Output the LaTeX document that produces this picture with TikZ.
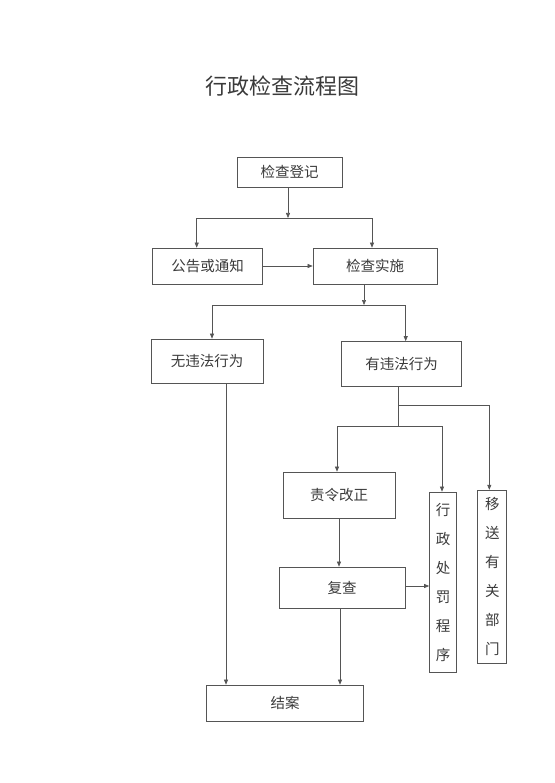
\documentclass[tikz,border=0pt]{standalone}
\usepackage{fontspec}
\newfontfamily\cjk{Noto Sans CJK SC}
\usetikzlibrary{arrows.meta}
\definecolor{ln}{HTML}{555555}
\definecolor{tx}{HTML}{3A3A3A}
\begin{document}
\begin{tikzpicture}[x=1pt,y=-1pt,
  box/.style={draw=ln,line width=0.7pt,inner sep=0pt,text=tx,font=\cjk\fontsize{14.5}{16}\selectfont},
  vbox/.style={draw=ln,line width=0.7pt,inner sep=0pt,text=tx,align=center,font=\cjk\fontsize{14.5}{29}\selectfont},
  conn/.style={draw=ln,line width=0.6pt},
  arr/.style={conn,-{Triangle[length=5pt,width=4pt]}}]
\useasboundingbox (0,0) rectangle (554,783);
\node[text=tx,font=\cjk\fontsize{22}{24}\selectfont] (title) at (282,86) {行政检查流程图};
\node[box,minimum width=105pt,minimum height=30pt] (reg) at (289.5,172) {检查登记};
\node[box,minimum width=110pt,minimum height=36pt] (notice) at (207.7,266) {公告或通知};
\node[box,minimum width=124pt,minimum height=36pt] (impl) at (375,266) {检查实施};
\node[box,minimum width=112pt,minimum height=44pt] (nov) at (207,361) {无违法行为};
\node[box,minimum width=120pt,minimum height=45pt] (vio) at (401.7,364) {有违法行为};
\node[box,minimum width=112pt,minimum height=46pt] (order) at (339,495) {责令改正};
\node[box,minimum width=126pt,minimum height=41pt] (recheck) at (342,587.5) {复查};
\node[vbox,minimum width=27pt,minimum height=180pt] (penalty) at (443,582) {行\\政\\处\\罚\\程\\序};
\node[vbox,minimum width=29pt,minimum height=173pt] (transfer) at (492.3,576.7) {移\\送\\有\\关\\部\\门};
\node[box,minimum width=157pt,minimum height=36pt] (close) at (285,703) {结案};
\coordinate (j1) at (288,218);
\coordinate (j2) at (364,305);
\coordinate (j3) at (398,405);
\coordinate (j4) at (398,426);
\draw[arr] ([xshift=-1.5pt]reg.south) -- (j1);
\draw[arr] (j1) -| ([xshift=-11pt]notice.north);
\draw[arr] (j1) -| ([xshift=-3pt]impl.north);
\draw[arr] (notice.east) -- (impl.west);
\draw[arr] ([xshift=-11pt]impl.south) -- (j2);
\draw[arr] (j2) -| ([xshift=5pt]nov.north);
\draw[arr] (j2) -| ([xshift=4pt]vio.north);
\draw[arr] ([xshift=19pt]nov.south) -- ([xshift=19pt]nov.south |- close.north);
\draw[conn] ([xshift=-3.7pt]vio.south) -- (j4);
\draw[arr] (j3) -| ([xshift=-3pt]transfer.north);
\draw[arr] (j4) -| ([xshift=-2pt]order.north);
\draw[arr] (j4) -| ([xshift=-1pt]penalty.north);
\draw[arr] (order.south) -- (order.south |- recheck.north);
\draw[arr] ([yshift=1.5pt]recheck.east) -- ([yshift=1.5pt]recheck.east -| penalty.west);
\draw[arr] ([xshift=-2pt]recheck.south) -- ([xshift=-2pt]recheck.south |- close.north);
\end{tikzpicture}
\end{document}
